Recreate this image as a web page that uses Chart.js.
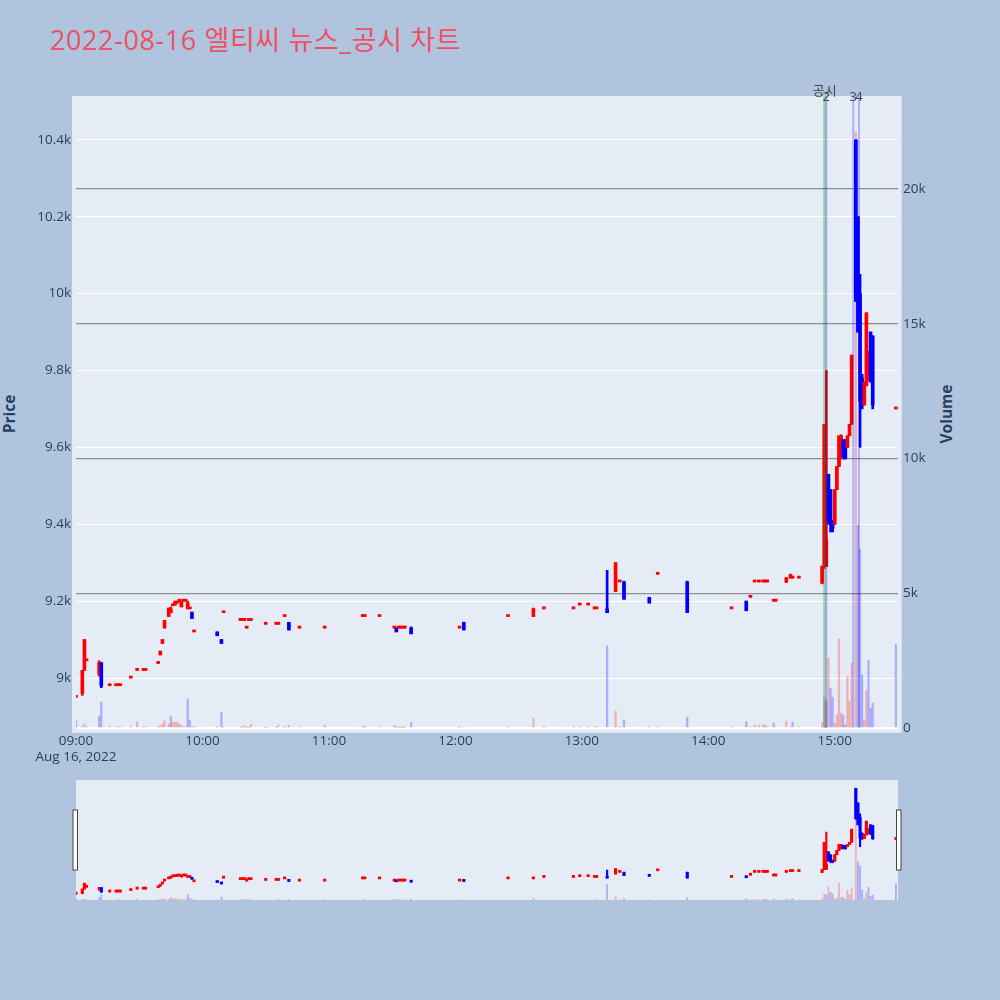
<!DOCTYPE html>
<html>
<head>
<meta charset="utf-8">
<script src="https://cdn.jsdelivr.net/npm/chart.js@4.4.1/dist/chart.umd.min.js"></script>
<style>
  html, body { margin: 0; padding: 0; background: #b0c4de; }
  body { width: 1000px; height: 1000px; position: relative; overflow: hidden;
         font-family: "Open Sans", "Noto Sans CJK KR", sans-serif; }
  #title { position: absolute; left: 50px; top: 26px; font-size: 27px; line-height: 27px;
           letter-spacing: 0.6px; color: #ee5066; white-space: nowrap; }
  .axt { position: absolute; top: 414px; font-size: 15.5px; font-weight: bold; color: #2a3f5f;
         transform: translate(-50%, -50%) rotate(-90deg); white-space: nowrap; }
  #main { position: absolute; left: 0; top: 0; }
  #slider { position: absolute; left: 0; top: 770px; }
</style>
</head>
<body>
<div id="title">2022-08-16 엘티씨 뉴스_공시 차트</div>
<div class="axt" style="left:9px">Price</div>
<div class="axt" style="left:946px">Volume</div>
<canvas id="main" width="1000" height="770"></canvas>
<canvas id="slider" width="1000" height="140"></canvas>
<script>
// minutes after 09:00
const minutes = [0, 3, 4, 5, 11, 12, 16, 19, 20, 21, 26, 29, 32, 33, 39, 40, 41, 42, 44, 45,
  46, 47, 48, 49, 50, 51, 52, 53, 54, 55, 56, 67, 69, 70, 78, 79, 80, 81, 82, 83,
  90, 95, 96, 99, 101, 106, 118, 136, 137, 144, 151, 152, 153, 154, 155, 156, 159, 182, 184, 205,
  217, 222, 236, 239, 243, 246, 247, 252, 256, 258, 260, 272, 276, 290, 311, 318, 320, 322, 324, 326,
  327, 328, 331, 332, 337, 339, 340, 343, 354, 355, 356, 357, 358, 359, 360, 361, 362, 363, 364, 365,
  366, 367, 368, 370, 371, 372, 373, 374, 375, 376, 377, 378, 389];
const opens = [8950, 8960, 9020, 9045, 9010, 9040, 8980, 8980, 8980, 8980, 9000, 9020, 9020, 9020, 9038, 9060, 9090, 9130, 9160, 9170,
  9188, 9190, 9195, 9200, 9185, 9200, 9200, 9180, 9180, 9170, 9120, 9120, 9100, 9170, 9150, 9150, 9150, 9130, 9150, 9150,
  9140, 9140, 9140, 9160, 9145, 9130, 9130, 9160, 9160, 9160, 9130, 9130, 9130, 9130, 9130, 9130, 9130, 9130, 9145, 9160,
  9160, 9180, 9180, 9190, 9190, 9180, 9180, 9180, 9225, 9250, 9250, 9210, 9270, 9250, 9180, 9200, 9210, 9250, 9250, 9250,
  9250, 9250, 9200, 9200, 9250, 9260, 9260, 9260, 9247, 9290, 9290, 9530, 9490, 9410, 9400, 9490, 9550, 9570, 9620, 9610,
  9600, 9630, 9660, 10400, 10200, 10000, 9780, 9710, 9760, 9775, 9900, 9890, 9700];
const highs = [8950, 9020, 9100, 9045, 9045, 9040, 8980, 8980, 8980, 8980, 9000, 9020, 9020, 9020, 9042, 9070, 9100, 9150, 9182, 9185,
  9192, 9200, 9200, 9200, 9200, 9200, 9200, 9200, 9180, 9172, 9120, 9120, 9100, 9170, 9150, 9150, 9150, 9130, 9150, 9150,
  9140, 9140, 9140, 9160, 9145, 9130, 9130, 9160, 9160, 9160, 9130, 9130, 9130, 9130, 9130, 9130, 9133, 9130, 9145, 9160,
  9182, 9180, 9180, 9190, 9190, 9180, 9180, 9280, 9300, 9250, 9252, 9210, 9270, 9252, 9180, 9200, 9210, 9250, 9250, 9250,
  9250, 9250, 9200, 9200, 9262, 9270, 9260, 9260, 9291, 9660, 9800, 9530, 9490, 9410, 9490, 9550, 9630, 9633, 9620, 9620,
  9630, 9660, 9840, 10400, 10200, 10050, 9790, 9770, 9950, 9850, 9900, 9890, 9700];
const lows = [8950, 8955, 9020, 9045, 9005, 8975, 8980, 8980, 8980, 8980, 9000, 9020, 9020, 9020, 9038, 9060, 9090, 9130, 9160, 9170,
  9188, 9190, 9195, 9200, 9185, 9200, 9200, 9180, 9180, 9155, 9120, 9110, 9090, 9170, 9150, 9150, 9150, 9130, 9150, 9150,
  9140, 9140, 9140, 9160, 9125, 9130, 9130, 9160, 9160, 9160, 9130, 9120, 9130, 9130, 9130, 9130, 9115, 9130, 9125, 9160,
  9160, 9180, 9180, 9190, 9190, 9180, 9180, 9170, 9225, 9250, 9205, 9195, 9270, 9170, 9180, 9175, 9210, 9250, 9250, 9250,
  9250, 9250, 9200, 9200, 9248, 9260, 9260, 9260, 9245, 9285, 9290, 9400, 9380, 9380, 9400, 9490, 9550, 9570, 9570, 9570,
  9600, 9630, 9660, 9980, 9900, 9600, 9700, 9710, 9760, 9775, 9770, 9700, 9700];
const closes = [8950, 9020, 9100, 9045, 9040, 8980, 8980, 8980, 8980, 8980, 9000, 9020, 9020, 9020, 9042, 9070, 9100, 9150, 9182, 9180,
  9192, 9200, 9200, 9200, 9200, 9200, 9200, 9195, 9180, 9155, 9120, 9110, 9090, 9170, 9150, 9150, 9150, 9130, 9150, 9150,
  9140, 9140, 9140, 9160, 9125, 9130, 9130, 9160, 9160, 9160, 9130, 9120, 9130, 9130, 9130, 9130, 9115, 9130, 9125, 9160,
  9180, 9180, 9180, 9190, 9190, 9180, 9180, 9170, 9300, 9250, 9205, 9195, 9270, 9170, 9180, 9175, 9210, 9250, 9250, 9250,
  9250, 9250, 9200, 9200, 9260, 9270, 9260, 9260, 9291, 9660, 9360, 9410, 9400, 9390, 9490, 9550, 9630, 9630, 9575, 9570,
  9630, 9660, 9840, 9980, 9900, 9720, 9710, 9770, 9950, 9850, 9770, 9710, 9700];
const volumes = [300, 60, 150, 40, 450, 960, 80, 30, 40, 30, 20, 230, 30, 40, 60, 90, 150, 270, 150, 420,
  210, 210, 210, 150, 90, 40, 40, 1075, 285, 40, 30, 30, 580, 20, 30, 20, 90, 30, 20, 140,
  20, 20, 110, 20, 90, 30, 110, 20, 90, 30, 90, 30, 20, 20, 20, 20, 210, 20, 40, 20,
  360, 20, 20, 20, 20, 40, 40, 3040, 630, 30, 300, 30, 20, 400, 20, 230, 30, 110, 110, 110,
  110, 60, 180, 40, 260, 40, 220, 40, 200, 1150, 1000, 2600, 1480, 1150, 170, 480, 3300, 550, 480, 110,
  1900, 1000, 2400, 22100, 7530, 6640, 1970, 300, 1400, 2520, 740, 930, 3100];

const hourLabels = ['09:00', '10:00', '11:00', '12:00', '13:00', '14:00', '15:00'];
const dateLabel = 'Aug 16, 2022';
const priceTicks = [9000, 9200, 9400, 9600, 9800, 10000, 10200, 10400];
const volumeTicks = [0, 5000, 10000, 15000, 20000];
const newsMinutes = [355.2, 356.0, 368.8, 371.5];
const newsLabels = ['공시', '2', '3', '4'];

const PRICE_MIN = 8870, PRICE_MAX = 10514, VOL_MAX = 23450;
const RED = '#ff0000', BLUE = '#0000ff';
const RED_T = 'rgba(255,0,0,0.25)', BLUE_T = 'rgba(0,0,255,0.26)';

Chart.defaults.font.family = '"Open Sans", "Noto Sans CJK KR", sans-serif';
Chart.defaults.color = '#2a3f5f';

const up = closes.map((c, i) => c >= opens[i]);
const volUp = closes.map((c, i) => i === 0 ? c > opens[i] : c >= closes[i - 1]);
const span = (a, b) => minutes.map((m, i) => ({ x: m, y: [a[i], b[i]] }));
const fixTicks = list => s => { s.ticks = list.map(v => ({ value: v })); };

function makeDatasets(wickW, bodyW, volW) {
  return [
    { data: span(opens, closes), backgroundColor: up.map(u => u ? RED : BLUE),
      barThickness: bodyW, minBarLength: 2, grouped: false, order: 1, yAxisID: 'y' },
    { data: span(lows, highs), backgroundColor: up.map(u => u ? RED : BLUE),
      barThickness: wickW, grouped: false, order: 2, yAxisID: 'y' },
    { data: minutes.map((m, i) => ({ x: m, y: volumes[i] })), backgroundColor: volUp.map(u => u ? RED_T : BLUE_T),
      barThickness: volW, grouped: false, order: 3, yAxisID: 'y1' }
  ];
}

const plotBg = {
  id: 'plotBg',
  beforeDraw(chart) {
    const { ctx, chartArea: a } = chart;
    ctx.save();
    ctx.fillStyle = '#e5ecf6';
    ctx.fillRect(a.left - 4, a.top, a.right - a.left + 7.7, a.bottom - a.top + 4.7);
    ctx.restore();
  }
};

const newsLines = {
  id: 'newsLines',
  afterDatasetsDraw(chart) {
    const { ctx, chartArea: a, scales: { x } } = chart;
    ctx.save();
    newsMinutes.forEach((m, i) => {
      const px = x.getPixelForValue(m);
      ctx.strokeStyle = i === 0 ? 'rgba(0,150,0,0.3)' : 'rgba(0,0,255,0.25)';
      ctx.lineWidth = i === 0 ? 3 : 2;
      ctx.beginPath();
      ctx.moveTo(px, a.top);
      ctx.lineTo(px, a.bottom);
      ctx.stroke();
      ctx.fillStyle = '#444';
      ctx.font = '13px "Open Sans", "Noto Sans CJK KR", sans-serif';
      ctx.textAlign = 'center';
      ctx.textBaseline = 'alphabetic';
      ctx.fillText(newsLabels[i], px, i === 0 ? a.top - 1 : a.top + 5);
    });
    ctx.restore();
  }
};

new Chart(document.getElementById('main'), {
  type: 'bar',
  data: { datasets: makeDatasets(2, 3, 1.6) },
  options: {
    responsive: false,
    animation: false,
    devicePixelRatio: 1,
    events: [],
    layout: { padding: { top: 96, left: 0, right: 0, bottom: 0 } },
    plugins: { legend: { display: false }, tooltip: { enabled: false } },
    scales: {
      x: {
        type: 'linear', min: 0, max: 390, offset: false,
        grid: { display: false, drawTicks: false, offset: false },
        border: { display: false },
        afterBuildTicks: fixTicks(hourLabels.map((h, i) => i * 60)),
        ticks: {
          autoSkip: false, maxRotation: 0, padding: 6,
          font: { size: 13.5, lineHeight: 1.12 },
          callback: v => {
            const i = Math.round(v / 60);
            return i === 0 ? [hourLabels[0], dateLabel] : hourLabels[i];
          }
        },
        afterFit: s => { s.height = 42; }
      },
      y: {
        position: 'left', min: PRICE_MIN, max: PRICE_MAX,
        grid: { color: '#ffffff', lineWidth: 1, drawTicks: false },
        border: { display: false },
        afterBuildTicks: fixTicks(priceTicks),
        ticks: { padding: 5, font: { size: 13.5 },
          callback: v => (Math.round(v / 100) / 10) + 'k' },
        afterFit: s => { s.width = 76; }
      },
      y1: {
        position: 'right', min: 0, max: VOL_MAX,
        grid: {
          drawTicks: false,
          color: c => c.tick.value === 0 ? '#ffffff' : 'rgba(120,120,120,0.8)',
          lineWidth: c => c.tick.value === 0 ? 2 : 1.2
        },
        border: { display: false },
        afterBuildTicks: fixTicks(volumeTicks),
        ticks: { padding: 5, font: { size: 13.5 },
          callback: v => v === 0 ? '0' : (v / 1000) + 'k' },
        afterFit: s => { s.width = 102; }
      }
    }
  },
  plugins: [plotBg, newsLines]
});

const sliderDeco = {
  id: 'sliderDeco',
  beforeDraw(chart) {
    const { ctx, chartArea: a } = chart;
    ctx.save();
    ctx.fillStyle = '#e5ecf6';
    ctx.fillRect(a.left, a.top, a.right - a.left, a.bottom - a.top);
    ctx.restore();
  },
  afterDraw(chart) {
    const { ctx, chartArea: a } = chart;
    ctx.save();
    ctx.fillStyle = '#ffffff';
    ctx.strokeStyle = '#444';
    ctx.lineWidth = 1;
    const h = 60, y0 = a.top + (a.bottom - a.top - h) / 2;
    [[a.left - 3, y0], [a.right - 1.5, y0]].forEach(([hx, hy]) => {
      ctx.fillRect(hx, hy, 4.5, h);
      ctx.strokeRect(hx, hy, 4.5, h);
    });
    ctx.restore();
  }
};

new Chart(document.getElementById('slider'), {
  type: 'bar',
  data: { datasets: makeDatasets(1.5, 2.5, 1.2) },
  options: {
    responsive: false,
    animation: false,
    devicePixelRatio: 1,
    events: [],
    layout: { padding: { top: 10, left: 76, right: 102, bottom: 10 } },
    plugins: { legend: { display: false }, tooltip: { enabled: false } },
    scales: {
      x: { type: 'linear', min: 0, max: 390, offset: false, display: false },
      y: { min: PRICE_MIN, max: PRICE_MAX, display: false },
      y1: { min: 0, max: VOL_MAX, display: false }
    }
  },
  plugins: [sliderDeco]
});
</script>
</body>
</html>
